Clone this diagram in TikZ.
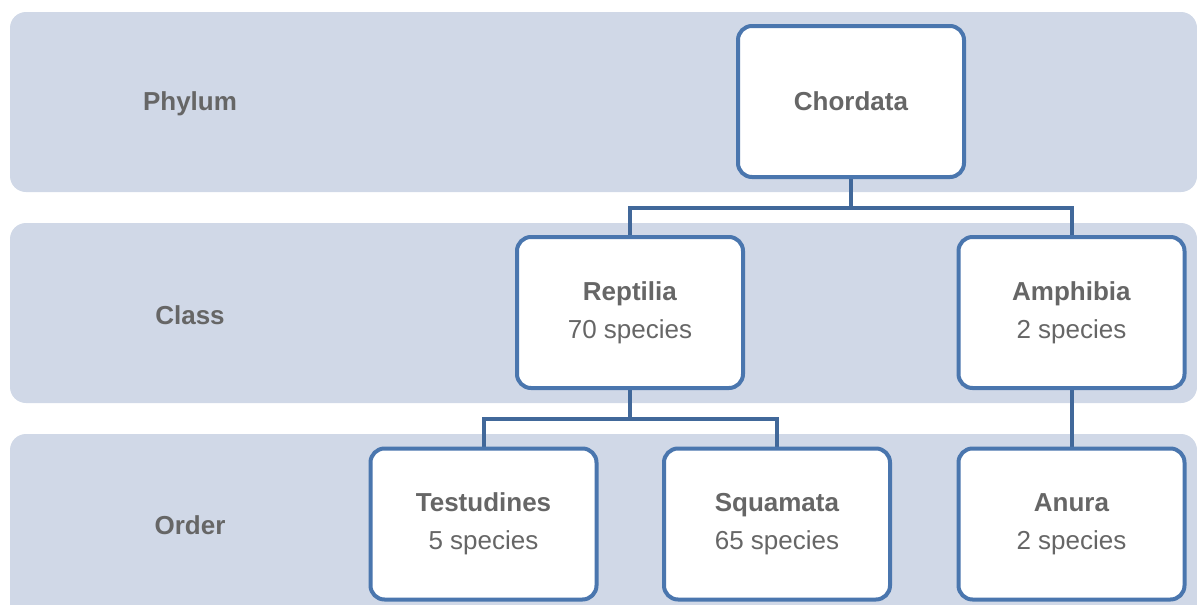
\documentclass[tikz,border=0pt]{standalone}
\usepackage{fontspec}
\setmainfont{Liberation Sans}
\usetikzlibrary{backgrounds}
\definecolor{bandc}{HTML}{D0D8E7}
\definecolor{boxc}{HTML}{4A76AE}
\definecolor{connc}{HTML}{41689A}
\definecolor{txtc}{HTML}{666666}
\begin{document}
\begin{tikzpicture}[x=1pt,y=-1pt,
  band/.style={fill=bandc,draw=none,rounded corners=16pt},
  taxon/.style={draw=boxc,line width=4pt,fill=white,rounded corners=14pt,
    minimum width=226pt,minimum height=151pt,inner sep=0pt,align=center,
    text=txtc,font=\fontsize{26}{38}\selectfont},
  rowlabel/.style={text=txtc,font=\fontsize{26}{30}\selectfont\bfseries},
  conn/.style={draw=connc,line width=4pt}]
\useasboundingbox (0,0) rectangle (1197,605);
\clip (0,0) rectangle (1197,605);
\node[rowlabel] (phylum) at (190,104) {Phylum};
\node[rowlabel] (class) at (190,315) {Class};
\node[rowlabel] (order) at (190,525) {Order};
\node[taxon] (chord) at (851,101.5) {\textbf{Chordata}};
\node[taxon] (rept) at (630,312.5) {\textbf{Reptilia}\\70 species};
\node[taxon] (amph) at (1071.5,312.5) {\textbf{Amphibia}\\2 species};
\node[taxon] (test) at (483.5,524) {\textbf{Testudines}\\5 species};
\node[taxon] (squa) at (777,524) {\textbf{Squamata}\\65 species};
\node[taxon] (anura) at (1071.5,524) {\textbf{Anura}\\2 species};
\coordinate (j1) at (851,208);
\coordinate (j2) at (630,419);
\begin{scope}[on background layer]
\fill[band] (10,12) rectangle (1197,192);
\fill[band] (10,223) rectangle (1197,403);
\fill[band] (10,434) rectangle (1197,625);
\draw[conn] (chord.south) -- (j1) -| (rept.north);
\draw[conn] (j1) -| (amph.north);
\draw[conn] (rept.south) -- (j2) -| (test.north);
\draw[conn] (j2) -| (squa.north);
\draw[conn] (amph.south) -- (anura.north);
\end{scope}
\end{tikzpicture}
\end{document}
